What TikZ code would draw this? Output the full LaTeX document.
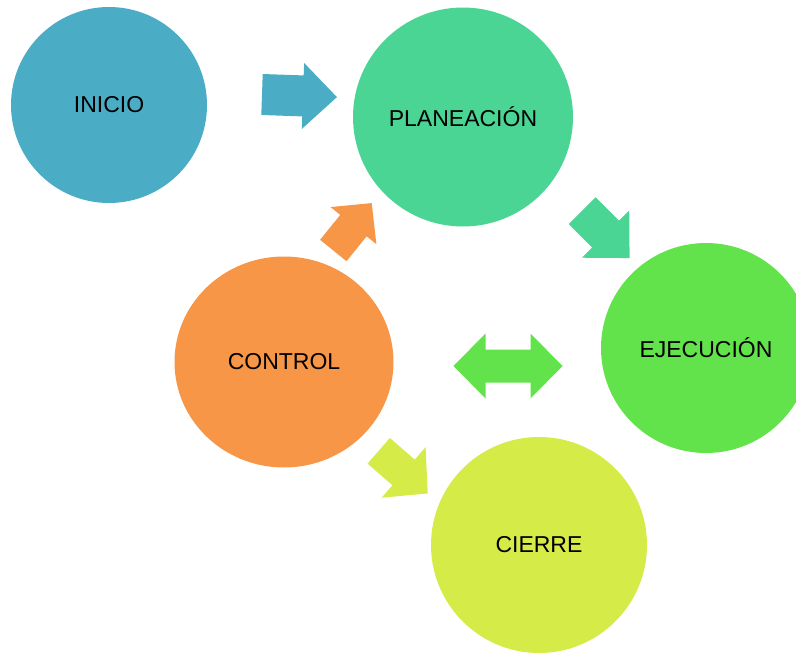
\documentclass[tikz,border=0pt]{standalone}
\usepackage{fontspec}
\setmainfont{Liberation Sans}
\usetikzlibrary{shapes.geometric}

\definecolor{cInicio}{HTML}{4BACC6}
\definecolor{cPlan}{HTML}{4AD594}
\definecolor{cEjec}{HTML}{62E24B}
\definecolor{cControl}{HTML}{F79646}
\definecolor{cCierre}{HTML}{D5EB48}

\tikzset{
  phase/.style={ellipse, inner sep=0pt, text=black,
    font=\fontsize{23}{27}\selectfont},
  % block arrow: length, head length, shaft width, head width (tail at origin)
  pics/blockarrow/.style n args={4}{code={
    \path[pic actions] (0,-#3/2) -- ({#1-#2},-#3/2) -- ({#1-#2},-#4/2)
      -- (#1,0) -- ({#1-#2},#4/2) -- ({#1-#2},#3/2) -- (0,#3/2) -- cycle;
  }},
  % double block arrow centred on the origin
  pics/doublearrow/.style n args={4}{code={
    \path[pic actions] ({-#1/2},0) -- ({-#1/2+#2},-#4/2) -- ({-#1/2+#2},-#3/2)
      -- ({#1/2-#2},-#3/2) -- ({#1/2-#2},-#4/2) -- ({#1/2},0)
      -- ({#1/2-#2},#4/2) -- ({#1/2-#2},#3/2) -- ({-#1/2+#2},#3/2)
      -- ({-#1/2+#2},#4/2) -- cycle;
  }}
}

\begin{document}
\begin{tikzpicture}[x=1pt, y=-1pt]
  \useasboundingbox (0,0) rectangle (796,653);
  \clip (0,0) rectangle (796,653);

  % phases
  \node[phase, fill=cInicio, minimum width=196, minimum height=196] (inicio) at (109,105) {INICIO};
  \node[phase, fill=cPlan, minimum width=220, minimum height=219] (plan) at (463,117) {PLANEACIÓN};
  \node[phase, fill=cEjec, minimum width=210, minimum height=210] (ejec) at (706,348) {EJECUCIÓN};
  \node[phase, fill=cControl, minimum width=219, minimum height=211] (control) at (284,362) {CONTROL};
  \node[phase, fill=cCierre, minimum width=216, minimum height=216] (cierre) at (539,545) {CIERRE};

  % arrow anchors
  \coordinate (a-ini) at (262,94.5);
  \coordinate (a-ctl) at (333.3,250.5);
  \coordinate (a-pla) at (582.2,210.7);
  \coordinate (a-cie) at (378.7,450.8);
  \coordinate (a-eje) at (508,366);

  % block arrows
  \pic[fill=cInicio, rotate=-2] at (a-ini) {blockarrow={75}{34}{41}{66}};
  \pic[fill=cControl, rotate=51] at (a-ctl) {blockarrow={61}{29}{34}{59}};
  \pic[fill=cPlan, rotate=-45] at (a-pla) {blockarrow={67}{34}{38}{67}};
  \pic[fill=cCierre, rotate=-41] at (a-cie) {blockarrow={65}{32}{34}{67}};
  \pic[fill=cEjec] at (a-eje) {doublearrow={109}{32}{33}{65}};
\end{tikzpicture}
\end{document}
